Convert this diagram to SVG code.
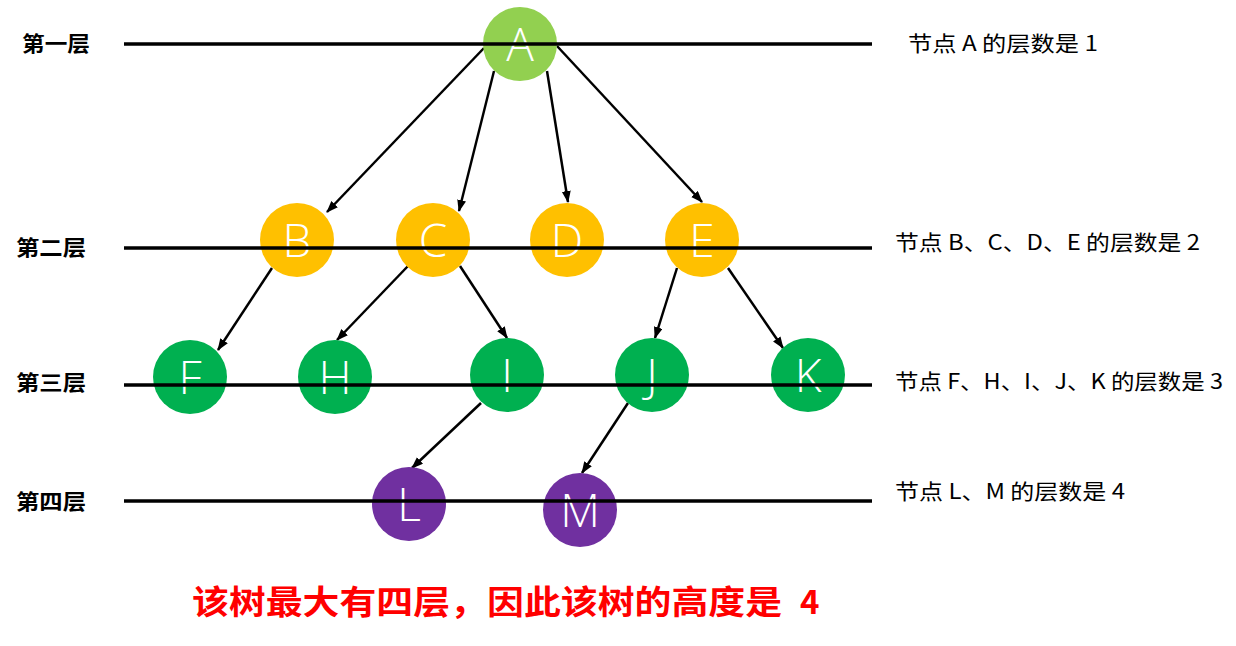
<svg xmlns="http://www.w3.org/2000/svg" width="1236" height="646" viewBox="0 0 1236 646">
<style>
.lvl{stroke:#000;stroke-width:3.5;fill:none}
.edge{stroke:#000;stroke-width:2.5;fill:none;marker-end:url(#ah)}
.n1{fill:#92D050}.n2{fill:#FFC000}.n3{fill:#00B050}.n4{fill:#7030A0}
.lt{fill:#fff;font-family:"Open Sans","Noto Sans",sans-serif;font-weight:300;font-size:46px;text-anchor:middle}
.ll{fill:#000;font-family:"Noto Sans CJK SC",sans-serif;font-weight:bold;font-size:21px}
.rl{fill:#000;font-family:"Noto Sans CJK SC",sans-serif;font-size:21px}
.big{fill:#FF0000;font-family:"Noto Sans CJK SC",sans-serif;font-weight:bold;font-size:33px}
</style>
<defs>
<marker id="ah" markerUnits="userSpaceOnUse" markerWidth="12" markerHeight="10" refX="11" refY="4.5" orient="auto">
<path d="M0,0 L12,4.5 L0,9 z" fill="#000"/>
</marker>
</defs>
<rect width="1236" height="646" fill="#fff"/>
<g id="level-labels">
<text class="ll" x="22" y="51" textLength="68" lengthAdjust="spacingAndGlyphs">第一层</text>
<text class="ll" x="16" y="255" textLength="70" lengthAdjust="spacingAndGlyphs">第二层</text>
<text class="ll" x="16" y="390" textLength="70" lengthAdjust="spacingAndGlyphs">第三层</text>
<text class="ll" x="16" y="509" textLength="70" lengthAdjust="spacingAndGlyphs">第四层</text>
</g>
<g id="connectors">
<line class="edge" x1="484" y1="48" x2="327" y2="212"/>
<line class="edge" x1="494" y1="71" x2="459" y2="211"/>
<line class="edge" x1="547" y1="71" x2="568" y2="202"/>
<line class="edge" x1="557" y1="46" x2="702" y2="202"/>
<line class="edge" x1="272" y1="268" x2="218" y2="350"/>
<line class="edge" x1="408" y1="266" x2="337" y2="340"/>
<line class="edge" x1="460" y1="266" x2="507" y2="338"/>
<line class="edge" x1="677" y1="268" x2="655" y2="338"/>
<line class="edge" x1="728" y1="268" x2="783" y2="348"/>
<line class="edge" x1="481" y1="403" x2="412" y2="468"/>
<line class="edge" x1="628" y1="403" x2="582" y2="473"/>
</g>
<g id="node-A"><circle class="n1" cx="520" cy="44" r="37"/><text class="lt" x="520" y="61">A</text></g>
<g id="node-B"><circle class="n2" cx="297" cy="240" r="37"/><text class="lt" x="297" y="257">B</text></g>
<g id="node-C"><circle class="n2" cx="433" cy="240" r="37"/><text class="lt" x="433" y="257">C</text></g>
<g id="node-D"><circle class="n2" cx="567" cy="240" r="37"/><text class="lt" x="567" y="257">D</text></g>
<g id="node-E"><circle class="n2" cx="702" cy="240" r="37"/><text class="lt" x="702" y="257">E</text></g>
<g id="node-F"><circle class="n3" cx="190" cy="377" r="37"/><text class="lt" x="190" y="394">F</text></g>
<g id="node-H"><circle class="n3" cx="335" cy="377" r="37"/><text class="lt" x="335" y="394">H</text></g>
<g id="node-I"><circle class="n3" cx="507" cy="375" r="37"/><text class="lt" x="507" y="392">I</text></g>
<g id="node-J"><circle class="n3" cx="652" cy="375" r="37"/><text class="lt" x="652" y="392">J</text></g>
<g id="node-K"><circle class="n3" cx="808" cy="375" r="37"/><text class="lt" x="808" y="392">K</text></g>
<g id="node-L"><circle class="n4" cx="409" cy="504" r="37"/><text class="lt" x="409" y="521">L</text></g>
<g id="node-M"><circle class="n4" cx="580" cy="510" r="37"/><text class="lt" x="580" y="527">M</text></g>
<g id="levels">
<line class="lvl" x1="124" y1="44" x2="872" y2="44"/>
<line class="lvl" x1="124" y1="248" x2="872" y2="248"/>
<line class="lvl" x1="124" y1="385" x2="872" y2="385"/>
<line class="lvl" x1="124" y1="501" x2="872" y2="501"/>
</g>
<g id="right-labels">
<text class="rl" x="908" y="51" textLength="190" lengthAdjust="spacingAndGlyphs">节点 A 的层数是 1</text>
<text class="rl" x="895" y="250" textLength="305" lengthAdjust="spacingAndGlyphs">节点 B、C、D、E 的层数是 2</text>
<text class="rl" x="895" y="389" textLength="328" lengthAdjust="spacingAndGlyphs">节点 F、H、I、J、K 的层数是 3</text>
<text class="rl" x="895" y="499" textLength="230" lengthAdjust="spacingAndGlyphs">节点 L、M 的层数是 4</text>
</g>
<g id="conclusion">
<text class="big" x="192" y="614" textLength="590" lengthAdjust="spacingAndGlyphs">该树最大有四层，因此该树的高度是</text>
<text class="big" x="800" y="614">4</text>
</g>
</svg>
